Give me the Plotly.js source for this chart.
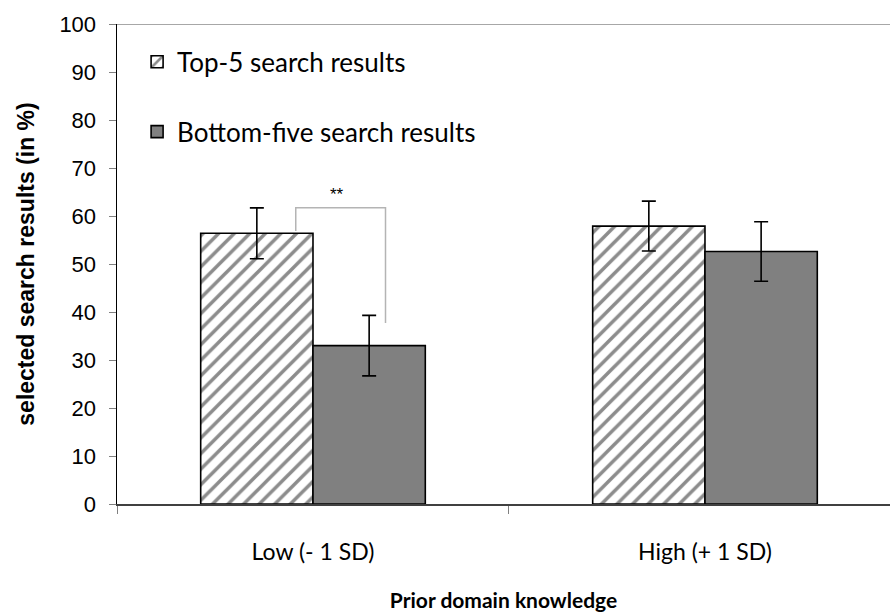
<!DOCTYPE html>
<html>
<head>
<meta charset="utf-8">
<script src="https://cdn.plot.ly/plotly-3.0.1.min.js"></script>
<style>html,body{margin:0;padding:0;background:#fff;}#chart{width:890px;height:615px;}</style>
</head>
<body>
<div id="chart"></div>
<script>
// Data
const categories = ["Low (- 1 SD)", "High (+ 1 SD)"];
const seriesNames = ["Top-5 search results", "Bottom-five search results"];
const top5Values = [56.4, 57.9];
const top5Errors = [5.3, 5.2];
const bottom5Values = [33.0, 52.6];
const bottom5Errors = [6.3, 6.2];
const yTickValues = [0, 10, 20, 30, 40, 50, 60, 70, 80, 90, 100];

const calibriLike = "Lato, 'Open Sans', sans-serif";
const arialLike = "'Liberation Sans', Arial, sans-serif";

const traces = [
  {
    type: "bar",
    name: seriesNames[0],
    legendgroup: "g1",
    x: categories,
    y: top5Values,
    error_y: {type: "data", array: top5Errors, visible: true, color: "#000", thickness: 1.6, width: 7},
    marker: {
      color: "#ffffff",
      line: {color: "#000", width: 1.6},
      pattern: {shape: "/", fgcolor: "#8c8c8c", bgcolor: "#ffffff", size: 11, solidity: 0.32}
    }
  },
  {
    type: "bar",
    name: seriesNames[1],
    legendgroup: "g2",
    x: categories,
    y: bottom5Values,
    error_y: {type: "data", array: bottom5Errors, visible: true, color: "#000", thickness: 1.6, width: 7},
    marker: {color: "#808080", line: {color: "#000", width: 1.6}}
  }
];

const layout = {
  width: 890,
  height: 615,
  margin: {l: 117, r: 0, t: 24, b: 111},
  paper_bgcolor: "#fff",
  plot_bgcolor: "#fff",
  barmode: "group",
  bargap: 0.427,
  bargroupgap: 0,
  showlegend: true,
  legend: {
    x: 0.026, y: 0.97, xanchor: "left", yanchor: "top",
    traceorder: "grouped", tracegroupgap: 33,
    font: {family: calibriLike, size: 26, color: "#000"},
    bgcolor: "rgba(0,0,0,0)"
  },
  xaxis: {
    type: "category",
    range: [-0.5, 1.472],
    showline: true, linecolor: "#404040", linewidth: 2,
    ticks: "outside", tickson: "boundaries", ticklen: 8, tickcolor: "#808080", tickwidth: 1,
    tickfont: {family: calibriLike, size: 23, color: "#000"},
    ticklabelstandoff: 26,
    showgrid: false, zeroline: false,
    title: {text: "<b>Prior domain knowledge</b>", font: {family: calibriLike, size: 21, color: "#000"}, standoff: 30}
  },
  yaxis: {
    range: [0, 100],
    tickvals: yTickValues,
    showline: true, linecolor: "#000", linewidth: 1.5,
    ticks: "outside", ticklen: 7, tickcolor: "#808080", tickwidth: 1,
    tickfont: {family: arialLike, size: 22, color: "#000"},
    ticklabelstandoff: 8,
    showgrid: false, zeroline: false,
    title: {text: "<b>selected search results (in %)</b>", font: {family: arialLike, size: 23, color: "#000"}, standoff: 18}
  },
  shapes: [
    {type: "line", xref: "paper", yref: "y", x0: 0, x1: 1, y0: 100, y1: 100, line: {color: "#8a8a8a", width: 1.5}},
    {type: "path", xref: "x", yref: "y", path: "M -0.044,56.9 L -0.044,61.7 L 0.185,61.7 L 0.185,37.7", line: {color: "#b4b4b4", width: 1.5}}
  ],
  annotations: [
    {xref: "x", yref: "y", x: 0.06, y: 64.5, text: "**", showarrow: false, font: {family: arialLike, size: 17, color: "#000"}}
  ]
};

Plotly.newPlot("chart", traces, layout, {displayModeBar: false, staticPlot: true});
</script>
</body>
</html>
